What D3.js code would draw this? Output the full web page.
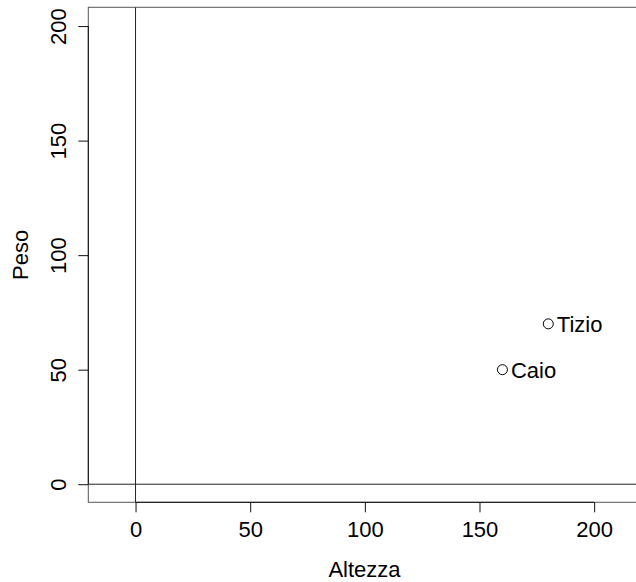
<!DOCTYPE html>
<html>
<head>
<meta charset="utf-8">
<script src="https://cdn.jsdelivr.net/npm/d3@7"></script>
<style>
  body { margin:0; background:#fff; }
  text { font-family: "Liberation Sans", Arial, sans-serif; fill:#000; }
</style>
</head>
<body>
<div id="chart-area"></div>
<script>
// data
var names   = ["Tizio", "Caio"];
var altezza = [180, 160];
var peso    = [70, 50];
var xTicks  = [0, 50, 100, 150, 200];
var yTicks  = [0, 50, 100, 150, 200];

var W = 636, H = 582;
var plot = { left:88.3, right:640.7, top:7.3, bottom:502.3 };
var fs = 22;

var svg = d3.select("#chart-area")
    .append("svg")
        .attr("width", W)
        .attr("height", H);

// scales (R style 4% padding, plot clipped on the right)
var x = d3.scaleLinear()
    .domain([-20.6, 220.3])
    .range([plot.left, plot.right]);

var y = d3.scaleLinear()
    .domain([-7.9, 208.2])
    .range([plot.bottom, plot.top]);

// box
svg.append("rect")
    .attr("x", plot.left)
    .attr("y", plot.top)
    .attr("width", plot.right - plot.left)
    .attr("height", plot.bottom - plot.top)
    .attr("fill", "none")
    .attr("stroke", "#555")
    .attr("stroke-width", 1);

// ablines at 0
svg.append("clipPath").attr("id", "clip")
  .append("rect")
    .attr("x", plot.left).attr("y", plot.top)
    .attr("width", plot.right - plot.left)
    .attr("height", plot.bottom - plot.top);

var g = svg.append("g").attr("clip-path", "url(#clip)");
g.append("line")
    .attr("x1", x(0)).attr("x2", x(0))
    .attr("y1", plot.top).attr("y2", plot.bottom)
    .attr("stroke", "#222");
g.append("line")
    .attr("x1", plot.left).attr("x2", plot.right)
    .attr("y1", y(0)).attr("y2", y(0))
    .attr("stroke", "#222");

// x axis
var xAxisGroup = svg.append("g")
    .attr("transform", "translate(0," + plot.bottom + ")")
    .call(d3.axisBottom(x).tickValues(xTicks).tickSize(10).tickPadding(9).tickSizeOuter(0));
xAxisGroup.select(".domain").remove();
xAxisGroup.append("line")
    .attr("x1", x(xTicks[0])).attr("x2", x(xTicks[xTicks.length - 1]))
    .attr("stroke", "#111");
xAxisGroup.selectAll("line").attr("stroke", "#111");
xAxisGroup.selectAll("text")
    .attr("font-size", fs + "px")
    .attr("font-family", null);

// y axis
var yAxisGroup = svg.append("g")
    .attr("transform", "translate(" + plot.left + ",0)")
    .call(d3.axisLeft(y).tickValues(yTicks).tickSize(10).tickSizeOuter(0));
yAxisGroup.select(".domain").remove();
yAxisGroup.append("line")
    .attr("y1", y(yTicks[0])).attr("y2", y(yTicks[yTicks.length - 1]))
    .attr("stroke", "#111");
yAxisGroup.selectAll("line").attr("stroke", "#111");
yAxisGroup.selectAll("text")
    .attr("font-size", fs + "px")
    .attr("font-family", null)
    .attr("x", null)
    .attr("dy", null)
    .attr("y", -22.8)
    .attr("text-anchor", "middle")
    .attr("transform", "rotate(-90)");

// axis labels
svg.append("text")
    .attr("x", (plot.left + plot.right) / 2)
    .attr("y", 577)
    .attr("font-size", fs + "px")
    .attr("text-anchor", "middle")
    .text("Altezza");

svg.append("text")
    .attr("transform", "translate(28," + ((plot.top + plot.bottom) / 2) + ") rotate(-90)")
    .attr("font-size", fs + "px")
    .attr("text-anchor", "middle")
    .text("Peso");

// points
var data = names.map(function(n, i){ return { name:n, a:altezza[i], p:peso[i] }; });

svg.selectAll("circle.pt")
    .data(data)
    .enter()
    .append("circle")
        .attr("class", "pt")
        .attr("cx", function(d){ return x(d.a); })
        .attr("cy", function(d){ return y(d.p); })
        .attr("r", 5)
        .attr("fill", "none")
        .attr("stroke", "#000")
        .attr("stroke-width", 1);

svg.selectAll("text.lab")
    .data(data)
    .enter()
    .append("text")
        .attr("class", "lab")
        .attr("x", function(d){ return x(d.a) + 8.5; })
        .attr("y", function(d){ return y(d.p); })
        .attr("dy", "0.36em")
        .attr("font-size", fs + "px")
        .text(function(d){ return d.name; });
</script>
</body>
</html>
